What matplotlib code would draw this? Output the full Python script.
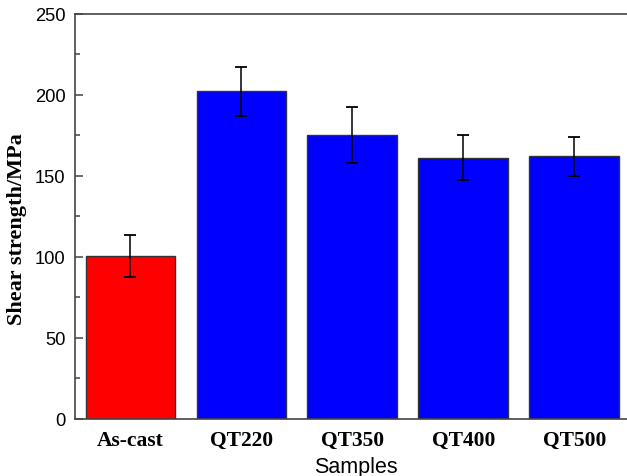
import matplotlib
matplotlib.use("Agg")
import matplotlib.pyplot as plt
from matplotlib.ticker import MultipleLocator

samples = ["As-cast", "QT220", "QT350", "QT400", "QT500"]
strength = [100.3, 202.0, 175.3, 161.1, 161.9]
errors = [13.2, 15.2, 17.2, 14.1, 12.1]
colors = ["#ff0000", "#0000ff", "#0000ff", "#0000ff", "#0000ff"]

fig = plt.figure(figsize=(6.27, 4.77), dpi=100)
# right edge sits just past the canvas, so the right spine is cut off
ax = fig.add_axes([0.1196, 0.1205, 0.885, 0.8487])

x = list(range(1, len(samples) + 1))
ax.bar(x, strength, width=0.81, color=colors, edgecolor="#333333",
       linewidth=1.0, zorder=2)
ax.errorbar(x, strength, yerr=errors, fmt="none", ecolor="black",
            elinewidth=1.1, capsize=4, capthick=1.3, zorder=3)

ax.set_xlim(0.5, 5.5)
ax.set_ylim(0, 250)
ax.yaxis.set_major_locator(MultipleLocator(50))
ax.yaxis.set_minor_locator(MultipleLocator(25))

ax.set_xticks(x)
ax.set_xticklabels(samples, fontfamily="Liberation Serif",
                   fontweight="bold", fontsize=15.5)
ax.tick_params(axis="x", length=0, pad=8)
ax.tick_params(axis="y", which="major", direction="in", length=6,
               width=1.1, color="#444444", pad=7, labelsize=13.2)
ax.tick_params(axis="y", which="minor", direction="in", length=3.8,
               width=1.1, color="#444444")
for lab in ax.get_yticklabels():
    lab.set_fontfamily("Liberation Sans")

for side in ["left", "top", "bottom"]:
    ax.spines[side].set_color("#444444")
    ax.spines[side].set_linewidth(1.2)
ax.spines["right"].set_visible(False)

ax.set_ylabel("Shear strength/MPa", fontfamily="Liberation Serif",
              fontweight="bold", fontsize=16)
ax.yaxis.set_label_coords(-0.087, 0.47)
ax.set_xlabel("Samples", fontfamily="Liberation Sans", fontsize=15.5)
ax.xaxis.set_label_coords(0.506, -0.092)
ax.xaxis.label.set_va("top")

fig.savefig("out.png", dpi=100)
